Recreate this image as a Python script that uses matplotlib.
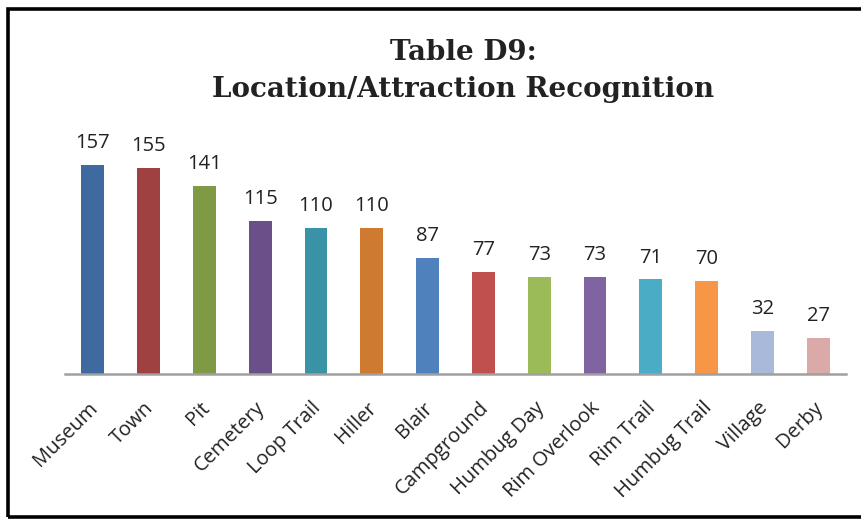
import matplotlib.pyplot as plt
from matplotlib.patches import Rectangle
from matplotlib.transforms import ScaledTranslation

categories = ["Museum", "Town", "Pit", "Cemetery", "Loop Trail", "Hiller", "Blair",
              "Campground", "Humbug Day", "Rim Overlook", "Rim Trail", "Humbug Trail",
              "Village", "Derby"]
values = [157, 155, 141, 115, 110, 110, 87, 77, 73, 73, 71, 70, 32, 27]
colors = ["#3E6A9F", "#9F4140", "#7E9A45", "#6A4F89", "#3A92A6", "#CF7A31", "#4F81BD",
          "#C0504D", "#9BBB59", "#8064A2", "#4BACC6", "#F79646", "#A8B9D9", "#DBA9A8"]

fig = plt.figure(figsize=(8.61, 5.19), dpi=100)
ax = fig.add_axes([0.0755, 0.2794, 0.9071, 0.4616])

x = range(len(categories))
ax.bar(x, values, width=0.41, color=colors)
for i, v in zip(x, values):
    ax.text(i, v + 9, str(v), ha="center", va="bottom", fontsize=14.5,
            family="Open Sans", color="#222222")

ax.set_xlim(-0.5, len(categories) - 0.5)
ax.set_ylim(0, 180)
for s in ["top", "right", "left"]:
    ax.spines[s].set_visible(False)
ax.spines["bottom"].set_color("#A0A0A0")
ax.spines["bottom"].set_linewidth(1.8)
ax.set_yticks([])
ax.set_xticks(list(x))
ax.set_xticklabels(categories, rotation=45, ha="right", rotation_mode="anchor",
                   fontsize=14.5, family="Open Sans", color="#222222")
ax.tick_params(axis="x", length=0, pad=15)
shift = ScaledTranslation(-5 / 100, -3 / 100, fig.dpi_scale_trans)
for lbl in ax.get_xticklabels():
    lbl.set_transform(lbl.get_transform() + shift)

fig.text(0.538, 0.863, "Table D9:\nLocation/Attraction Recognition", ha="center",
         va="center", fontsize=20, fontweight="bold", family="DejaVu Serif",
         color="#222222", linespacing=1.45)

# frame: left, top, bottom only (right edge is cut off)
fig.patches.append(Rectangle((0.0098, 0.0035), 1.2, 0.9800, transform=fig.transFigure,
                             fill=False, edgecolor="black", linewidth=2.6))

fig.savefig("out.png", dpi=100)
